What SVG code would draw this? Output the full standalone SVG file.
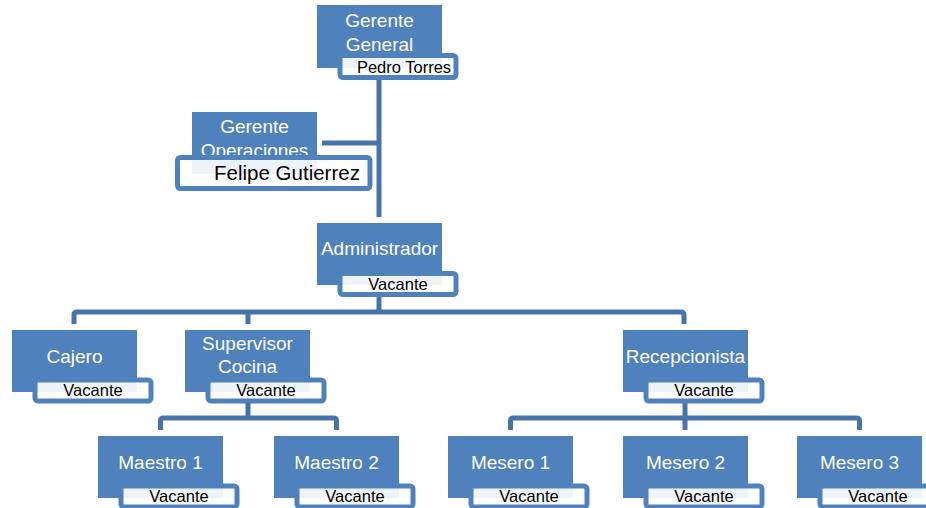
<svg xmlns="http://www.w3.org/2000/svg" width="926" height="508" viewBox="0 0 926 508">
<style>
.box{fill:#4f81bd}
.lab{fill:#ffffff;fill-opacity:0.9;stroke:#4f81bd;stroke-width:5}
.t{font-family:"Liberation Sans",Arial,sans-serif;font-size:19px;fill:#ffffff;text-anchor:middle}
.v{font-family:"Liberation Sans",Arial,sans-serif;font-size:16.5px;fill:#000000;text-anchor:middle}
.c{fill:none;stroke:#4673aa;stroke-width:5}
</style>
<rect width="926" height="508" fill="#ffffff"/>
<g id="connectors">
<path class="c" d="M379 80 V217"/>
<path class="c" d="M322 143 H379"/>
<path class="c" d="M379 297 V312"/>
<path class="c" d="M74 324 V315 Q74 312 77 312 H681 Q684 312 684 315 V324"/>
<path class="c" d="M248 312 V324"/>
<path class="c" d="M248 403 V418"/>
<path class="c" d="M160.5 430 V421 Q160.5 418 163.5 418 H333.5 Q336.5 418 336.5 421 V430"/>
<path class="c" d="M685 403 V418"/>
<path class="c" d="M510.5 430 V421 Q510.5 418 513.5 418 H856.5 Q859.5 418 859.5 421 V430"/>
<path class="c" d="M685 418 V430"/>
</g>
<g id="gerente-general">
<rect class="box" x="317" y="5" width="125" height="63"/>
<text class="t" x="379.5" y="27">Gerente</text>
<text class="t" x="379.5" y="51">General</text>
<rect class="lab" x="340" y="55.5" width="116" height="22" rx="3"/>
<text class="v" x="404" y="73">Pedro Torres</text>
</g>
<g id="gerente-operaciones">
<rect class="box" x="192" y="112" width="125" height="62"/>
<text class="t" x="254.5" y="133">Gerente</text>
<text class="t" x="254.5" y="157">Operaciones</text>
<rect class="lab" x="177.5" y="157.5" width="192.5" height="31" rx="3"/>
<text class="v" x="287" y="180" style="font-size:20.5px">Felipe Gutierrez</text>
</g>
<g id="administrador">
<rect class="box" x="317" y="223" width="125" height="62"/>
<text class="t" x="379.5" y="255">Administrador</text>
<rect class="lab" x="340" y="273.5" width="116" height="21" rx="3"/>
<text class="v" x="398" y="290">Vacante</text>
</g>
<g id="cajero">
<rect class="box" x="12" y="330" width="125" height="62"/>
<text class="t" x="74.5" y="363">Cajero</text>
<rect class="lab" x="35" y="380" width="116" height="21" rx="3"/>
<text class="v" x="93" y="396">Vacante</text>
</g>
<g id="supervisor-cocina">
<rect class="box" x="185" y="330" width="125" height="62"/>
<text class="t" x="247.5" y="350">Supervisor</text>
<text class="t" x="247.5" y="373">Cocina</text>
<rect class="lab" x="208" y="380" width="116" height="21" rx="3"/>
<text class="v" x="266" y="396">Vacante</text>
</g>
<g id="recepcionista">
<rect class="box" x="623" y="330" width="125" height="62"/>
<text class="t" x="685.5" y="363">Recepcionista</text>
<rect class="lab" x="646" y="380" width="116" height="21" rx="3"/>
<text class="v" x="704" y="396">Vacante</text>
</g>
<g id="maestro-1">
<rect class="box" x="98" y="436" width="125" height="62"/>
<text class="t" x="160.5" y="469">Maestro 1</text>
<rect class="lab" x="121" y="486" width="116" height="21" rx="3"/>
<text class="v" x="179" y="502">Vacante</text>
</g>
<g id="maestro-2">
<rect class="box" x="274" y="436" width="125" height="62"/>
<text class="t" x="336.5" y="469">Maestro 2</text>
<rect class="lab" x="297" y="486" width="116" height="21" rx="3"/>
<text class="v" x="355" y="502">Vacante</text>
</g>
<g id="mesero-1">
<rect class="box" x="448" y="436" width="125" height="62"/>
<text class="t" x="510.5" y="469">Mesero 1</text>
<rect class="lab" x="471" y="486" width="116" height="21" rx="3"/>
<text class="v" x="529" y="502">Vacante</text>
</g>
<g id="mesero-2">
<rect class="box" x="623" y="436" width="125" height="62"/>
<text class="t" x="685.5" y="469">Mesero 2</text>
<rect class="lab" x="646" y="486" width="116" height="21" rx="3"/>
<text class="v" x="704" y="502">Vacante</text>
</g>
<g id="mesero-3">
<rect class="box" x="797" y="436" width="125" height="62"/>
<text class="t" x="859.5" y="469">Mesero 3</text>
<rect class="lab" x="820" y="486" width="116" height="21" rx="3"/>
<text class="v" x="878" y="502">Vacante</text>
</g>
</svg>
